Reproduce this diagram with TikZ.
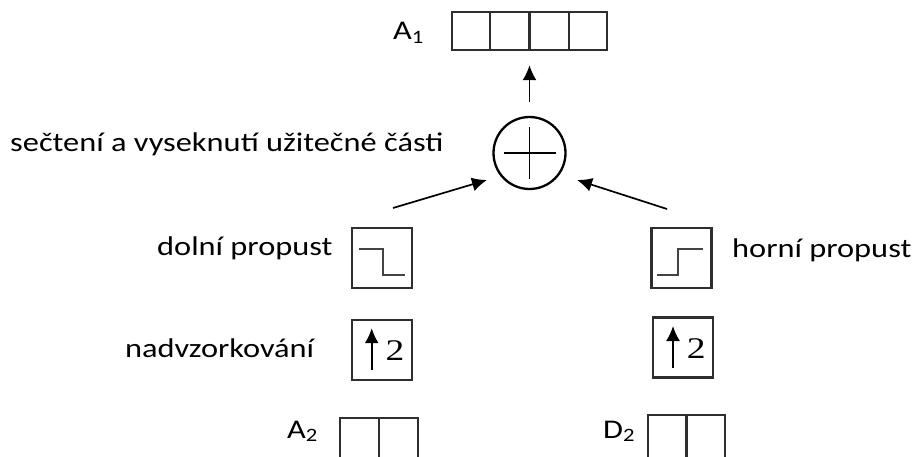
\documentclass[tikz,border=0pt]{standalone}
\usepackage{fontspec}
\setmainfont{Carlito}[FakeStretch=1.2]
\newfontfamily\serifdigit{Liberation Serif}[FakeStretch=1.25]
\usetikzlibrary{arrows.meta,calc}
\definecolor{boxc}{HTML}{2E2E2E}
\definecolor{stepc}{HTML}{444444}
\begin{document}
\begin{tikzpicture}[x=1pt,y=-1pt,
  lbl/.style={font=\fontsize{27}{31}\selectfont, inner sep=0pt, anchor=base west},
  boxsq/.style={draw=boxc, line width=2.4pt, minimum width=60pt, minimum height=60pt, inner sep=0pt},
  cellrow/.style={draw=boxc, line width=2.4pt, minimum height=38pt, inner sep=0pt},
  conn/.style={line width=1.7pt, -{Latex[length=15pt,width=14pt]}},
  stepline/.style={draw=stepc, line width=2.3pt},
  divider/.style={draw=boxc, line width=2.4pt},
  digit/.style={font=\serifdigit\fontsize{30}{30}\selectfont, inner sep=0pt},
]
\useasboundingbox (0,0) rectangle (912,457);
% top array A1
\node[cellrow, minimum width=155pt] (a1) at (529.5,31) {};
\foreach \f in {0.25,0.5,0.75}
  \draw[divider] ($(a1.north west)!\f!(a1.north east)$) -- ($(a1.south west)!\f!(a1.south east)$);
\node[lbl] (a1lbl) at (393,40) {A\textsubscript{1}};
% sum
\node[circle, draw, line width=2.3pt, minimum size=72pt, inner sep=0pt] (sum) at (529.5,153) {};
\draw[line width=1.7pt] ($(sum.center)+(-26,0)$) -- ($(sum.center)+(26,0)$);
\draw[line width=1.7pt] ($(sum.center)+(0,-26)$) -- ($(sum.center)+(0,26)$);
\node[lbl] (sumlbl) at (10,152) {sečtení a vyseknutí užitečné části};
\draw[conn, shorten <=14pt, shorten >=14pt] (sum.north) -- (a1.south);
% filters
\node[boxsq] (lp) at (382,258) {};
\draw[stepline] ($(lp.center)+(-23,-9)$) -- ++(24,0) -- ++(0,26) -- ++(22,0);
\node[lbl] (lplbl) at (157,255) {dolní propust};
\node[boxsq] (hp) at (681.5,258) {};
\draw[stepline] ($(hp.center)+(-24.5,17)$) -- ++(21,0) -- ++(0,-26) -- ++(25,0);
\node[lbl] (hplbl) at (732,257) {horní propust};
% arrows into sum
\coordinate (lt) at (393,208);
\coordinate (lh) at (487,180);
\draw[conn] (lt) -- (lh);
\coordinate (rt) at (667,209);
\coordinate (rh) at (577,180);
\draw[conn] (rt) -- (rh);
% upsampling
\node[boxsq] (lu) at (381.7,349.7) {};
\draw[conn] ($(lu.center)+(-10,20)$) -- ($(lu.center)+(-10,-21.5)$);
\node[digit] (lu2) at ($(lu.center)+(13.3,1.3)$) {2};
\node[lbl] (lulbl) at (125,357) {nadvzorkování};
\node[boxsq] (hu) at (683,347.5) {};
\draw[conn] ($(hu.center)+(-10,20)$) -- ($(hu.center)+(-10,-21.5)$);
\node[digit] (hu2) at ($(hu.center)+(13.3,1.3)$) {2};
% bottom arrays
\node[cellrow, minimum width=78pt, minimum height=44pt] (a2) at (379,440) {};
\draw[divider] (a2.north) -- (a2.south);
\node[lbl] (a2lbl) at (287,438) {A\textsubscript{2}};
\node[cellrow, minimum width=77pt, minimum height=44pt] (d2) at (686.5,437) {};
\draw[divider] (d2.north) -- (d2.south);
\node[lbl] (d2lbl) at (603,438) {D\textsubscript{2}};
\end{tikzpicture}
\end{document}
